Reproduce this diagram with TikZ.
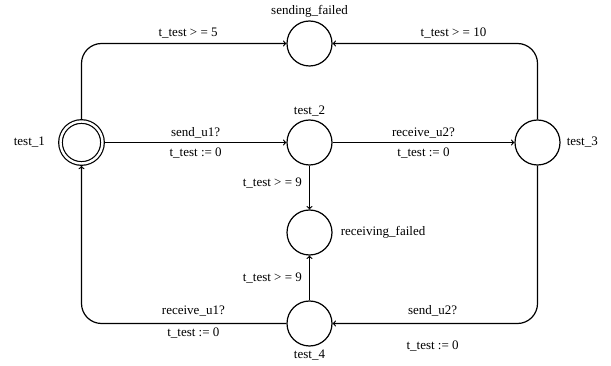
\documentclass[tikz,border=0pt]{standalone}
\usepackage{fontspec}
\setmainfont{Liberation Serif}
\usetikzlibrary{positioning}

\tikzset{
  state/.style={circle,draw,line width=1.2pt,minimum size=45pt,inner sep=0pt},
  init/.style={state,double,double distance=2.4pt,minimum size=42pt,outer sep=2.4pt},
  stname/.style={font=\fontsize{13}{15}\selectfont,inner sep=1pt},
  guard/.style={font=\fontsize{13}{15}\selectfont,inner sep=1pt},
  trans/.style={->,line width=1.2pt,rounded corners=20pt}
}

\begin{document}
\begin{tikzpicture}[x=1pt,y=-1pt]
\useasboundingbox (0,0) rectangle (611,366);

% locations
\node[state] (sf) at (309.5,43.5) {};
\node[init]  (t1) at (81.5,142.5) {};
\node[state] (t2) at (309.5,142.5) {};
\node[state] (t3) at (537.5,142.5) {};
\node[state] (rf) at (309.5,232.5) {};
\node[state] (t4) at (309.5,323.5) {};

% location names
\node[stname,above=2pt of sf] (sfname) {sending\_failed};
\node[stname,above=2pt of t2] (t2name) {test\_2};
\node[stname,left=12pt of t1] (t1name) {test\_1};
\node[stname,right=5pt of t3] (t3name) {test\_3};
\node[stname,right=7pt of rf] (rfname) {receiving\_failed};
\node[stname,below=2pt of t4] (t4name) {test\_4};

% transitions
\draw[trans] (t1.north) |- (sf.west)
  node[guard,above=4pt,pos=.76] (g1) {t\_test > = 5};
\draw[trans] (t3.north) |- (sf.east)
  node[guard,above=4pt,pos=.705] (g2) {t\_test > = 10};
\draw[trans] (t1.east) -- (t2.west)
  node[guard,above=2.7pt,midway] (s1) {send\_u1?}
  node[guard,below=4pt,midway] (r1) {t\_test := 0};
\draw[trans] (t2.east) -- (t3.west)
  node[guard,above=2.7pt,midway] (s2) {receive\_u2?}
  node[guard,below=4pt,midway] (r2) {t\_test := 0};
\draw[trans] (t2.south) -- (rf.north)
  node[guard,left=6pt,pos=.4] (g3) {t\_test > = 9};
\draw[trans] (t4.north) -- (rf.south)
  node[guard,left=6pt,pos=.5] (g4) {t\_test > = 9};
\draw[trans] (t3.south) |- (t4.east)
  node[guard,above=6pt,pos=.756] (s3) {send\_u2?}
  node[guard,below=16pt,pos=.756] (r3) {t\_test := 0};
\draw[trans] (t4.west) -| (t1.south)
  node[guard,above=6pt,pos=.227] (s4) {receive\_u1?}
  node[guard,below=3pt,pos=.227] (r4) {t\_test := 0};

\end{tikzpicture}
\end{document}
